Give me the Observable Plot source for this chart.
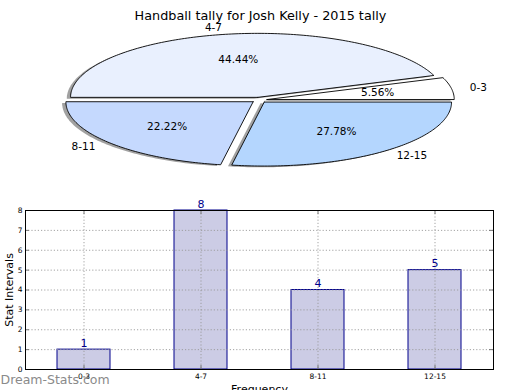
<!DOCTYPE html>
<html>
<head>
<meta charset="utf-8">
<script src="https://cdn.jsdelivr.net/npm/d3@7"></script>
<script src="https://cdn.jsdelivr.net/npm/@observablehq/plot@0.6"></script>
<style>
  body { margin: 0; background: #fff; }
  #chart { position: relative; width: 520px; height: 390px; overflow: hidden; font-family: "DejaVu Sans", sans-serif; }
  #chart svg { display: block; }
</style>
</head>
<body>
<div id="chart"></div>
<script>
// ---- data ----
const title = "Handball tally for Josh Kelly - 2015 tally";
const categories = ["0-3", "4-7", "8-11", "12-15"];
const counts = [1, 8, 4, 5];
const pieColors = ["#ffffff", "#e9f0fe", "#c5d9fe", "#b4d6fe"];
const yTicks = [0, 1, 2, 3, 4, 5, 6, 7, 8];
const xLabel = "Frequency";
const yLabel = "Stat Intervals";
const watermark = "Dream-Stats.com";

// ---- pie geometry (unit circle, squashed by scales) ----
const explode = 0.042;
const total = d3.sum(counts);
let acc = 0;
const slices = categories.map((c, i) => {
  const a0 = acc / total * 360;
  acc += counts[i];
  const a1 = acc / total * 360;
  const mid = (a0 + a1) / 2 * Math.PI / 180;
  const ox = explode * Math.cos(mid), oy = explode * Math.sin(mid);
  const pts = [{x: ox, y: oy}];
  const n = Math.max(2, Math.ceil(a1 - a0));
  for (let k = 0; k <= n; k++) {
    const a = (a0 + (a1 - a0) * k / n) * Math.PI / 180;
    pts.push({x: ox + Math.cos(a), y: oy + Math.sin(a)});
  }
  pts.push({x: ox, y: oy});
  return {
    label: c, color: pieColors[i], pts,
    shadow: pts.map(p => ({x: p.x - 0.02, y: p.y - 0.02})),
    lx: ox + 1.1 * Math.cos(mid), ly: oy + 1.1 * Math.sin(mid),
    px: ox + 0.6 * Math.cos(mid), py: oy + 0.6 * Math.sin(mid),
    pct: (counts[i] / total * 100).toFixed(2) + "%"
  };
});

const cx = 258.7, cy = 99.5, rx = 187.3, ry = 64;
const pie = Plot.plot({
  width: 520, height: 190,
  margin: 0,
  style: {fontFamily: "DejaVu Sans, sans-serif", background: "transparent"},
  x: {domain: [-1, 1], range: [cx - rx, cx + rx], axis: null},
  y: {domain: [-1, 1], range: [cy + ry, cy - ry], axis: null},
  marks: [
    ...slices.map(s => Plot.line(s.shadow, {x: "x", y: "y", fill: "#444", fillOpacity: 0.5, stroke: "none", curve: "linear"})),
    ...slices.map(s => Plot.line(s.pts, {x: "x", y: "y", fill: s.color, stroke: "black", strokeWidth: 0.9, curve: "linear"})),
    Plot.text(slices.filter(s => s.lx > 0), {x: "lx", y: "ly", text: "label", textAnchor: "start", fontSize: 10.5, fill: "black"}),
    Plot.text(slices.filter(s => s.lx <= 0), {x: "lx", y: "ly", text: "label", textAnchor: "end", fontSize: 10.5, fill: "black"}),
    Plot.text(slices, {x: "px", y: "py", text: "pct", fontSize: 10.5, fill: "black"}),
    Plot.text([title], {frameAnchor: "top", text: d => d, dy: 10, fontSize: 12.8, fill: "black"})
  ]
});

// ---- bar chart ----
const bars = categories.map((c, i) => ({cat: c, value: counts[i]}));
const innerW = 520 - 25 - 27, innerH = 200 - 20 - 21;
const bar = Plot.plot({
  width: 520, height: 200,
  marginLeft: 25, marginRight: 27, marginTop: 20, marginBottom: 21,
  style: {fontFamily: "DejaVu Sans, sans-serif", background: "transparent", overflow: "visible"},
  x: {domain: categories, paddingInner: 0.55, paddingOuter: 0.275, align: 0.5, axis: null},
  y: {domain: [0, 8], axis: null},
  marks: [
    Plot.barY(bars, {x: "cat", y: "value", fill: "#ccccE5", stroke: "#00008b", strokeWidth: 1}),
    Plot.gridY(yTicks, {stroke: "#999", strokeOpacity: 0.9, strokeDasharray: "1.2,2"}),
    Plot.gridX(categories, {stroke: "#999", strokeOpacity: 0.9, strokeDasharray: "1.2,2"}),
    Plot.tickY(yTicks, {y: d => d, insetRight: innerW - 4, stroke: "#777"}),
    Plot.tickY(yTicks, {y: d => d, insetLeft: innerW - 4, stroke: "#777"}),
    Plot.tickX(categories, {x: d => d, insetTop: innerH - 4, stroke: "#777"}),
    Plot.tickX(categories, {x: d => d, insetBottom: innerH - 4, stroke: "#777"}),
    Plot.frame({stroke: "black", strokeWidth: 1}),
    Plot.axisY(yTicks, {tickSize: 0, tickPadding: 3, fontSize: 7.5, label: null, fill: "black"}),
    Plot.axisX(categories, {tickSize: 0, tickPadding: 4, fontSize: 7.5, label: null, fill: "black"}),
    Plot.text(bars, {x: "cat", y: "value", text: d => String(d.value), lineAnchor: "bottom", dy: -3, fontSize: 11, fill: "#00008b"}),
    Plot.text([yLabel], {frameAnchor: "left", text: d => d, textAnchor: "middle", rotate: -90, dx: -16, fontSize: 11, fill: "black"}),
    Plot.text([xLabel], {frameAnchor: "bottom", text: d => d, textAnchor: "middle", dy: 23, fontSize: 11, fill: "black"}),
    Plot.text([watermark], {frameAnchor: "bottom-left", text: d => d, textAnchor: "start", dx: -25, dy: 14, fontSize: 12.5, fill: "#8a8a8a"})
  ]
});

const chart = document.getElementById("chart");
chart.appendChild(pie);
chart.appendChild(bar);
</script>
</body>
</html>
